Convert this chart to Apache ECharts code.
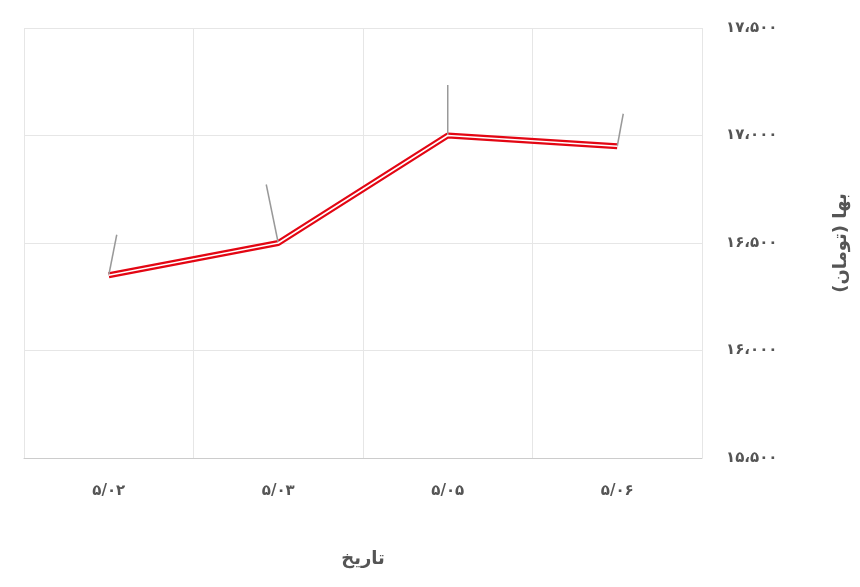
<!DOCTYPE html>
<html><head><meta charset="utf-8">
<script src="https://cdn.jsdelivr.net/npm/echarts@6/dist/echarts.min.js"></script>
<style>html,body{margin:0;padding:0;background:#fff}#c{width:860px;height:587px}</style>
</head><body><div id="c"></div>
<script>
var categories = ['5/02', '5/03', '5/05', '5/06'];
var prices = [16350, 16500, 17000, 16950];
var yTicks = [15500, 16000, 16500, 17000, 17500];

function fa(s) {
  return String(s).replace(/\d/g, function (d) { return '۰۱۲۳۴۵۶۷۸۹'[d]; });
}
function faNum(n) {
  var s = String(n).replace(/\B(?=(\d{3})+(?!\d))/g, '،');
  return fa(s);
}
var FONT = 'DejaVu Sans';
var offsets = [[8, -30], [-12, -48], [0, -40], [6, -22]];
var chart = echarts.init(document.getElementById('c'));
chart.setOption({
  animation: false,
  grid: { left: 24, right: 158, top: 28, bottom: 129 },
  xAxis: {
    type: 'category', data: categories, boundaryGap: true,
    name: 'تاریخ', nameLocation: 'middle', nameGap: 92,
    nameTextStyle: { fontFamily: FONT, fontWeight: 'bold', fontSize: 18, color: '#555' },
    axisLine: { lineStyle: { color: '#ccc' } }, axisTick: { show: false },
    axisLabel: { formatter: fa, fontFamily: FONT, fontWeight: 'bold', fontSize: 15, color: '#555', margin: 26 },
    splitLine: { show: true, lineStyle: { color: '#e6e6e6' } }
  },
  yAxis: {
    type: 'value', position: 'right', min: yTicks[0], max: yTicks[yTicks.length - 1], interval: 500,
    name: 'بها (تومان)', nameLocation: 'middle', nameGap: 130, nameRotate: 90,
    nameTextStyle: { fontFamily: FONT, fontWeight: 'bold', fontSize: 18, color: '#555' },
    axisLine: { show: false }, axisTick: { show: false },
    axisLabel: { formatter: faNum, fontFamily: FONT, fontWeight: 'bold', fontSize: 15, color: '#555', margin: 24 },
    splitLine: { lineStyle: { color: '#e6e6e6' } }
  },
  series: [{
    type: 'line', data: prices, symbol: 'circle', symbolSize: 1, showSymbol: true, z: 2,
    itemStyle: { color: '#e30613', opacity: 0 },
    lineStyle: { color: '#e30613', width: 6 },
    label: { show: true, position: 'top', distance: 10, formatter: function (p) { return faNum(p.value); },
      fontFamily: FONT, fontWeight: 'bold', fontSize: 15, color: '#555' },
    labelLine: { show: true, lineStyle: { color: '#999', width: 1.5 } },
    labelLayout: function (p) { var o = offsets[p.dataIndex]; return { dx: o[0], dy: o[1] }; }
  }, {
    type: 'line', data: prices, symbol: 'none', z: 3, silent: true,
    lineStyle: { color: '#fff', width: 1.5 }
  }]
});
</script></body></html>
